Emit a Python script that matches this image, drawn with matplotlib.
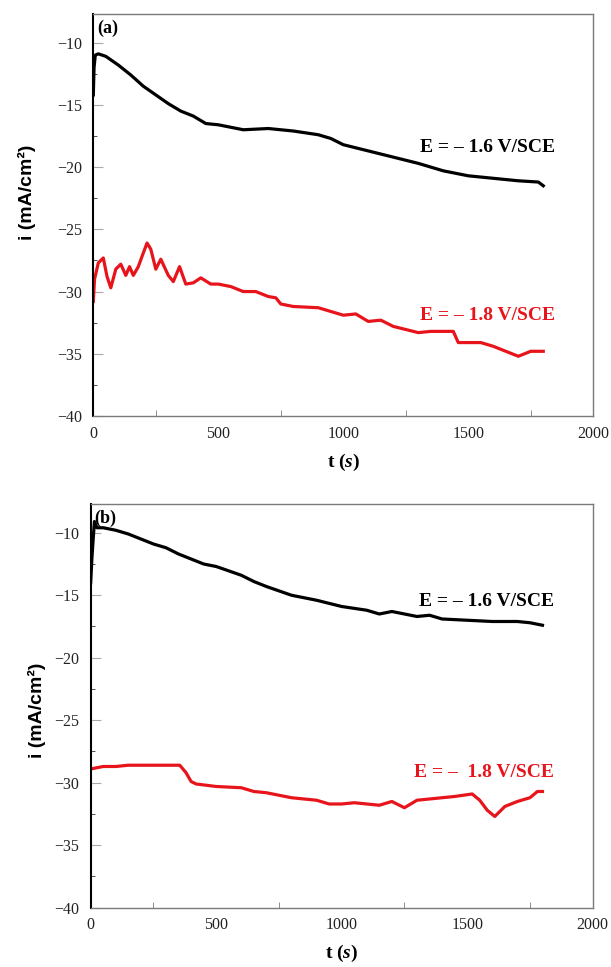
import matplotlib
matplotlib.use("Agg")
import matplotlib.pyplot as plt
from matplotlib.ticker import MultipleLocator

plt.rcParams["mathtext.fontset"] = "custom"
plt.rcParams["mathtext.rm"] = "Liberation Serif"
plt.rcParams["mathtext.bf"] = "Liberation Serif:bold"
plt.rcParams["mathtext.bfit"] = "Liberation Serif:italic:bold"

# --- dados ---
# (a) E = -1.6 V/SCE
t_a16 = [0, 3, 8, 20, 50, 100, 150, 200, 250, 300, 350, 400, 450, 500, 550, 600,
         700, 800, 900, 950, 1000, 1100, 1200, 1300, 1400, 1500, 1600, 1700, 1780, 1800]
i_a16 = [-14.2, -12.0, -11.0, -10.9, -11.1, -11.8, -12.6, -13.5, -14.2, -14.9, -15.5,
         -15.9, -16.5, -16.6, -16.8, -17.0, -16.9, -17.1, -17.4, -17.7, -18.2, -18.7,
         -19.2, -19.7, -20.3, -20.7, -20.9, -21.1, -21.2, -21.5]
# (a) E = -1.8 V/SCE
t_a18 = [0, 5, 20, 40, 55, 70, 90, 110, 130, 145, 160, 180, 200, 215, 230, 250, 270,
         300, 320, 345, 370, 400, 430, 470, 500, 550, 600, 650, 700, 730, 750, 800,
         900, 1000, 1050, 1100, 1150, 1200, 1300, 1350, 1440, 1460, 1500, 1550, 1600,
         1650, 1700, 1750, 1800]
i_a18 = [-30.8, -29.0, -27.7, -27.3, -28.8, -29.7, -28.2, -27.8, -28.7, -28.0, -28.7,
         -28.0, -26.9, -26.1, -26.6, -28.2, -27.4, -28.7, -29.2, -28.0, -29.4, -29.3,
         -28.9, -29.4, -29.4, -29.6, -30.0, -30.0, -30.4, -30.5, -31.0, -31.2, -31.3,
         -31.9, -31.8, -32.4, -32.3, -32.8, -33.3, -33.2, -33.2, -34.1, -34.1, -34.1,
         -34.4, -34.8, -35.2, -34.8, -34.8]
# (b) E = -1.6 V/SCE
t_b16 = [0, 5, 10, 15, 25, 50, 100, 150, 200, 250, 300, 350, 400, 450, 500, 600, 650,
         700, 800, 900, 1000, 1100, 1150, 1200, 1300, 1350, 1400, 1500, 1600, 1700,
         1750, 1800]
i_b16 = [-14.0, -12.0, -10.5, -9.1, -9.6, -9.6, -9.8, -10.1, -10.5, -10.9, -11.2,
         -11.7, -12.1, -12.5, -12.7, -13.4, -13.9, -14.3, -15.0, -15.4, -15.9, -16.2,
         -16.5, -16.3, -16.7, -16.6, -16.9, -17.0, -17.1, -17.1, -17.2, -17.4]
# (b) E = -1.8 V/SCE
t_b18 = [0, 50, 100, 150, 200, 300, 355, 380, 400, 420, 500, 600, 650, 700, 800, 900,
         950, 1000, 1050, 1150, 1200, 1250, 1300, 1400, 1450, 1520, 1550, 1580, 1610,
         1650, 1700, 1750, 1780, 1800]
i_b18 = [-28.9, -28.7, -28.7, -28.6, -28.6, -28.6, -28.6, -29.2, -29.9, -30.1, -30.3,
         -30.4, -30.7, -30.8, -31.2, -31.4, -31.7, -31.7, -31.6, -31.8, -31.5, -32.0,
         -31.4, -31.2, -31.1, -30.9, -31.4, -32.2, -32.7, -31.9, -31.5, -31.2, -30.7,
         -30.7]

paineis = [
    ("(a)", t_a16, i_a16, t_a18, i_a18, "E = – 1.6 V/SCE", "E = – 1.8 V/SCE",
     [0.1527, 0.5698, 0.8183, 0.4157], -18.4, -31.9, -0.115, 0.557),
    ("(b)", t_b16, i_b16, t_b18, i_b18, "E = – 1.6 V/SCE", "E = –  1.8 V/SCE",
     [0.1484, 0.0613, 0.8216, 0.4175], -15.5, -29.15, -0.088, 0.49),
]

fig = plt.figure(figsize=(6.11, 9.67), dpi=100)

for (letra, t1, i1, t2, i2, txt1, txt2, pos, y1, y2, ylx, yly) in paineis:
    ax = fig.add_axes(pos)
    ax.plot(t1, i1, color="black", lw=2.3, solid_joinstyle="round")
    ax.plot(t2, i2, color="#e8141b", lw=2.3, solid_joinstyle="round")

    ax.set_xlim(0, 2000)
    ax.set_ylim(-40, -7.7)
    ax.xaxis.set_major_locator(MultipleLocator(500))
    ax.xaxis.set_minor_locator(MultipleLocator(250))
    ax.yaxis.set_major_locator(MultipleLocator(5))
    ax.yaxis.set_minor_locator(MultipleLocator(2.5))

    for s in ["top", "right", "bottom"]:
        ax.spines[s].set_color("#7a7a7a")
        ax.spines[s].set_linewidth(1.0)
    ax.spines["left"].set_color("black")
    ax.spines["left"].set_linewidth(1.5)

    ax.tick_params(axis="x", which="major", direction="in", length=0, pad=7)
    ax.tick_params(axis="x", which="minor", direction="in", length=4, color="#7a7a7a")
    ax.tick_params(axis="y", which="major", direction="in", length=7, color="#aaaaaa", pad=8)
    ax.tick_params(axis="y", which="minor", direction="in", length=3, color="#333333")
    for lab in ax.get_xticklabels() + ax.get_yticklabels():
        lab.set_fontfamily("Liberation Serif")
        lab.set_fontsize(11.5)
        lab.set_color("#222222")

    ax.set_xlabel("t ($\\mathbfit{s}$)", fontfamily="Liberation Serif",
                  fontweight="bold", fontsize=14, labelpad=7)
    ax.set_ylabel("i (mA/cm²)", fontfamily="Liberation Sans",
                  fontweight="bold", fontsize=14)
    ax.yaxis.set_label_coords(ylx, yly)

    ax.text(0.008, 0.985, letra, transform=ax.transAxes, ha="left", va="top",
            fontfamily="Liberation Serif", fontweight="bold", fontsize=13)
    ax.text(1845, y1, txt1, ha="right", va="center", color="black",
            fontfamily="Liberation Serif", fontweight="bold", fontsize=14)
    ax.text(1845, y2, txt2, ha="right", va="center", color="#e8141b",
            fontfamily="Liberation Serif", fontweight="bold", fontsize=14)

fig.savefig("out.png", dpi=100)
